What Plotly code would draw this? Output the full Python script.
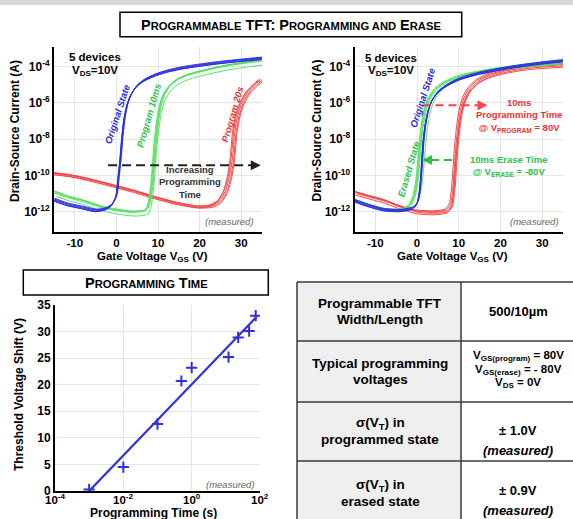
import math
import plotly.graph_objects as go

W, H = 573, 519
FONT = "Liberation Sans, Arial, sans-serif"

# ---------------- data ----------------
# Top-left panel: programming (log10 of drain current vs gate voltage)
vgs_orig_a = [-15, -12, -8, -5, -2.5, -1, 0, 0.5, 1.0, 1.4, 1.9, 2.6, 3.5, 4.8, 6.5, 9, 12, 16, 20, 25, 30, 35]
logi_orig_a = [-11.35, -11.6, -11.8, -11.95, -11.85, -11.6, -11.1, -10.1, -9.0, -7.9, -6.9, -6.1, -5.55, -5.1,
               -4.78, -4.5, -4.27, -4.07, -3.93, -3.78, -3.66, -3.55]
vgs_p10ms_a = [-15, -12, -8, -4, 0, 4, 7, 7.8, 8.4, 8.8, 9.2, 9.7, 10.3, 11.2, 12.5, 14.5, 17, 21, 26, 30, 35]
logi_p10ms_a = [-10.9, -11.15, -11.4, -11.7, -11.9, -12.0, -11.9, -11.5, -10.6, -9.5, -8.3, -7.2, -6.3, -5.6,
                -5.1, -4.7, -4.45, -4.2, -3.95, -3.8, -3.65]
vgs_p20s_a = [-15, -10, -5, 0, 5, 10, 15, 20, 23, 25, 26.5, 27.5, 28.2, 28.8, 29.5, 30.5, 32, 33.5, 35]
logi_p20s_a = [-9.9, -10.05, -10.3, -10.6, -10.9, -11.25, -11.55, -11.75, -11.7, -11.45, -10.9, -10.1, -9.1,
               -7.6, -6.7, -6.0, -5.4, -5.05, -4.75]
# device-to-device spread (5 devices): V shift and log-current shift
dv_orig_a = [0, 0.1, -0.1, 0.2, -0.15]
dlog_orig_a = [0, 0.04, -0.04, 0.08, -0.06]
dv_p10ms_a = [0, 0.2, -0.2, 0.35, 0.5]
dlog_p10ms_a = [0, 0.03, -0.05, 0.0, -0.25]
dv_p20s_a = [0, -0.3, -0.6, -0.9, 0.2]
dlog_p20s_a = [0, 0.04, 0.07, -0.04, -0.06]

# Top-right panel: program & erase
vgs_orig_b = [-15, -12, -8, -4, -1, 0, 0.5, 0.9, 1.2, 1.5, 2.0, 2.6, 3.5, 5, 7, 10, 14, 19, 25, 30, 35]
logi_orig_b = [-11.4, -11.65, -11.9, -11.95, -11.8, -11.55, -11.1, -10.2, -9.2, -8.2, -7.2, -6.5, -5.9, -5.4,
               -5.05, -4.7, -4.42, -4.18, -3.95, -3.8, -3.68]
vgs_erase_b = [-15, -12, -8, -4, -2.5, -1.5, -0.7, 0, 0.4, 0.8, 1.3, 2.0, 3.0, 4.5, 6.5, 10, 14, 19, 25, 30, 35]
logi_erase_b = [-11.35, -11.6, -11.85, -11.9, -11.8, -11.6, -11.2, -10.4, -9.5, -8.4, -7.3, -6.4, -5.75, -5.25,
                -4.9, -4.55, -4.33, -4.12, -3.95, -3.85, -3.75]
vgs_prog_b = [-15, -12, -8, -4, 0, 4, 7, 8, 8.5, 8.9, 9.3, 9.8, 10.4, 11.3, 12.5, 14.5, 17, 21, 26, 30, 35]
logi_prog_b = [-10.9, -11.1, -11.35, -11.7, -11.95, -12.0, -11.9, -11.6, -10.9, -9.7, -8.4, -7.3, -6.4, -5.7,
               -5.2, -4.75, -4.45, -4.2, -4.0, -3.92, -3.85]
dv_orig_b = [0, 0.08, -0.08, 0.15, -0.12]
dlog_orig_b = [0, 0.04, -0.04, 0.07, -0.06]
dv_erase_b = [0, -0.2, -0.35, 0.15, 1.2]
dlog_erase_b = [0, 0.0, 0.04, -0.04, -0.08]
dv_prog_b = [0, 0.3, -0.3, 0.5, 0.15]
dlog_prog_b = [0, -0.04, 0.04, -0.1, -0.18]

# Bottom-left panel: threshold voltage shift vs programming time
prog_time_s = [1e-3, 1e-2, 1e-1, 0.5, 1, 12, 23, 48, 75]
vt_shift_v = [0.3, 4.5, 12.6, 20.7, 23.2, 25.2, 28.9, 30.1, 33.0]
fit_time_s = [1e-3, 80]
fit_shift_v = [0, 32.8]
time_ticks = [1e-4, 1e-2, 1, 100]

# Table
table_params = [["Programmable TFT", "Width/Length"],
                ["Typical programming", "voltages"],
                ["σ(V<sub>T</sub>) in", "programmed state"],
                ["σ(V<sub>T</sub>) in", "erased state"]]
table_values = [["500/10µm"],
                ["V<sub>GS(program)</sub> = 80V", "V<sub>GS(erase)</sub> = - 80V", "V<sub>DS</sub> = 0V"],
                ["± 1.0V", "<i>(measured)</i>"],
                ["± 0.9V", "<i>(measured)</i>"]]

# ---------------- style ----------------
BLUE = "#2f2fe0"
GREEN = "#55e060"
RED = "#f04848"
BLUE_T = "#2b2bd8"
GREEN_T = "#2fc04a"
RED_T = "#ec3434"
GRID = "#e6e6e6"


def px(x):
    return x / W


def py(y):
    return 1 - y / H


fig = go.Figure()


def add_bundle(v, logi, dvs, dls, color, xa, ya):
    for dv, dl in zip(dvs, dls):
        fig.add_trace(go.Scatter(
            x=[a + dv for a in v], y=[10 ** (b + dl) for b in logi],
            mode="lines", line=dict(color=color, width=1.0, shape="spline", smoothing=0.6),
            xaxis=xa, yaxis=ya, showlegend=False, hoverinfo="skip"))


add_bundle(vgs_p20s_a, logi_p20s_a, dv_p20s_a, dlog_p20s_a, RED, "x", "y")
add_bundle(vgs_p10ms_a, logi_p10ms_a, dv_p10ms_a, dlog_p10ms_a, GREEN, "x", "y")
add_bundle(vgs_orig_a, logi_orig_a, dv_orig_a, dlog_orig_a, BLUE, "x", "y")

add_bundle(vgs_prog_b, logi_prog_b, dv_prog_b, dlog_prog_b, RED, "x2", "y2")
add_bundle(vgs_erase_b, logi_erase_b, dv_erase_b, dlog_erase_b, GREEN, "x2", "y2")
add_bundle(vgs_orig_b, logi_orig_b, dv_orig_b, dlog_orig_b, BLUE, "x2", "y2")

# dashed arrow shafts
fig.add_trace(go.Scatter(x=[-2, 33.6], y=[10 ** -9.45] * 2, mode="lines",
                         line=dict(color="#222", width=2, dash="9px,5px"),
                         xaxis="x", yaxis="y", showlegend=False, hoverinfo="skip"))
fig.add_trace(go.Scatter(x=[1.3, 15.2], y=[10 ** -6.13] * 2, mode="lines",
                         line=dict(color=RED, width=2, dash="8px,5px"),
                         xaxis="x2", yaxis="y2", showlegend=False, hoverinfo="skip"))
fig.add_trace(go.Scatter(x=[8.4, 2.6], y=[10 ** -9.15] * 2, mode="lines",
                         line=dict(color=GREEN_T, width=2, dash="8px,5px"),
                         xaxis="x2", yaxis="y2", showlegend=False, hoverinfo="skip"))

# bottom-left panel
fig.add_trace(go.Scatter(x=fit_time_s, y=fit_shift_v, mode="lines",
                         line=dict(color=BLUE, width=2.2), xaxis="x3", yaxis="y3",
                         showlegend=False, hoverinfo="skip"))
fig.add_trace(go.Scatter(x=prog_time_s, y=vt_shift_v, mode="markers",
                         marker=dict(symbol="cross-thin", size=8, line=dict(color=BLUE, width=2)),
                         xaxis="x3", yaxis="y3", showlegend=False, hoverinfo="skip"))

tickfont = dict(family=FONT, size=12, color="black")
xtickfont = dict(family=FONT, size=11.5, color="black")
exp_ticks = lambda es: ["<b>10<sup>%d</sup></b>" % e for e in es]
common = dict(showgrid=True, gridcolor=GRID, gridwidth=1, zeroline=False, showline=True,
              linecolor="black", linewidth=2, ticks="", fixedrange=True, automargin=False)

lin_ticks = [-10, 0, 10, 20, 30]
log_ticks = [-12, -10, -8, -6, -4]
top_dom_y = [py(231.5), py(46.7)]

fig.update_layout(
    width=W, height=H, margin=dict(l=0, r=0, t=0, b=0, autoexpand=False),
    paper_bgcolor="white", plot_bgcolor="white", showlegend=False,
    font=dict(family=FONT, color="black"),
    xaxis=dict(domain=[px(54), px(262)], range=[-15, 35], anchor="y", tickfont=xtickfont,
               tickvals=lin_ticks, ticktext=["<b>%d</b>" % t for t in lin_ticks], **common),
    yaxis=dict(domain=top_dom_y, type="log", range=[-13.1, -2.9], anchor="x", tickfont=tickfont,
               tickvals=[10 ** e for e in log_ticks], ticktext=exp_ticks(log_ticks), **common),
    xaxis2=dict(domain=[px(354.5), px(563)], range=[-15, 35], anchor="y2", tickfont=xtickfont,
                tickvals=lin_ticks, ticktext=["<b>%d</b>" % t for t in lin_ticks], **common),
    yaxis2=dict(domain=top_dom_y, type="log", range=[-13.1, -2.9], anchor="x2", tickfont=tickfont,
                tickvals=[10 ** e for e in log_ticks], ticktext=exp_ticks(log_ticks), **common),
    xaxis3=dict(domain=[px(55), px(260)], type="log", range=[-4, 2], anchor="y3", tickfont=tickfont,
                tickvals=time_ticks, showticklabels=False, **common),
    yaxis3=dict(domain=[py(491), py(305)], range=[0, 35], anchor="x3", tickfont=tickfont,
                tickvals=list(range(0, 36, 5)), ticktext=["<b>%d</b>" % t for t in range(0, 36, 5)], **common),
)

shapes = []
annotations = []


def paper_text(x, y, text, size=12, color="black", angle=0, bold=True):
    annotations.append(dict(x=px(x), y=py(y), xref="paper", yref="paper", text=("<b>%s</b>" % text) if bold else text,
                            showarrow=False, textangle=angle, xanchor="center", yanchor="middle",
                            font=dict(family=FONT, size=size, color=color)))


def data_text(x, y, text, xr, yr, size=10, color="black", angle=0, bold=True, italic=False):
    t = text
    if italic:
        t = "<i>%s</i>" % t
    if bold:
        t = "<b>%s</b>" % t
    annotations.append(dict(x=x, y=y, xref=xr, yref=yr, text=t, showarrow=False, textangle=angle,
                            xanchor="center", yanchor="middle",
                            font=dict(family=FONT, size=size, color=color)))


# top grey band
shapes.append(dict(type="rect", xref="paper", yref="paper", x0=0, x1=1, y0=py(5), y1=1,
                   fillcolor="#d8d8d8", line=dict(width=0), layer="above"))

# title boxes
sc = lambda s: '<span style="font-size:11.2px">%s</span>' % s
shapes.append(dict(type="rect", xref="paper", yref="paper", x0=px(120), x1=px(461.7), y0=py(36.7), y1=py(12.3),
                   line=dict(color="black", width=1.5), fillcolor="white"))
paper_text(291, 24.8, "P" + sc("ROGRAMMABLE") + " TFT: P" + sc("ROGRAMMING AND") + " E" + sc("RASE"), size=14.5)
shapes.append(dict(type="rect", xref="paper", yref="paper", x0=px(23.3), x1=px(268.3), y0=py(295), y1=py(270),
                   line=dict(color="black", width=1.5), fillcolor="white"))
paper_text(146, 283, "P" + sc("ROGRAMMING") + " T" + sc("IME"), size=14.5)

# axis titles
paper_text(15, 131, "Drain-Source Current (A)", size=12, angle=-90)
paper_text(316.5, 131, "Drain-Source Current (A)", size=12, angle=-90)
paper_text(152.5, 256.5, "Gate Voltage V<sub>GS</sub> (V)", size=11.5)
paper_text(452.5, 256.5, "Gate Voltage V<sub>GS</sub> (V)", size=11.5)
paper_text(19, 395, "Threshold Voltage Shift (V)", size=12, angle=-90)
paper_text(153, 512.5, "Programming Time (s)", size=12)

# bottom-left x tick labels (close to the axis, as in the reference)
for t, lab in zip(time_ticks, exp_ticks([round(math.log10(t)) for t in time_ticks])):
    annotations.append(dict(x=math.log10(t), y=py(499), xref="x3", yref="paper", text=lab, showarrow=False,
                            xanchor="center", yanchor="middle", font=dict(family=FONT, size=11.5, color="black")))

# panel A texts
data_text(-5.1, -3.47, "5 devices", "x", "y", size=11.5)
data_text(-5.1, -4.26, "V<sub>DS</sub>=10V", "x", "y", size=11.5)
data_text(0.1, -6.62, "Original State", "x", "y", size=9.5, color=BLUE_T, angle=-72, italic=True)
data_text(7.8, -6.71, "Program 10ms", "x", "y", size=9.5, color=GREEN_T, angle=-74, italic=True)
data_text(27.8, -6.62, "Program 20s", "x", "y", size=9.5, color=RED_T, angle=-74, italic=True)
data_text(17.7, -10.35, "Increasing<br>Programming<br>Time", "x", "y", size=9.5, color="#333")
data_text(27.3, -12.56, "(measured)", "x", "y", size=9.5, color="#666", bold=False, italic=True)
annotations.append(dict(x=34.7, y=-9.45, xref="x", yref="y", ax=-9, ay=0, text="", showarrow=True,
                        arrowhead=2, arrowsize=1, arrowwidth=2, arrowcolor="#222"))

# panel B texts
data_text(-6.3, -3.5, "5 devices", "x2", "y2", size=11.5)
data_text(-6.3, -4.25, "V<sub>DS</sub>=10V", "x2", "y2", size=11.5)
data_text(1.3, -5.69, "Original State", "x2", "y2", size=9.5, color=BLUE_T, angle=-72, italic=True)
data_text(-1.9, -9.65, "Erased State", "x2", "y2", size=9.5, color=GREEN_T, angle=-74, italic=True)
data_text(24.4, -6.72, "10ms<br>Programming Time<br>@ V<sub>PROGRAM</sub> = 80V", "x2", "y2", size=9.5, color=RED_T)
data_text(22.0, -9.49, "10ms Erase Time<br>@ V<sub>ERASE</sub> = -80V", "x2", "y2", size=9.5, color=GREEN_T)
data_text(28.1, -12.56, "(measured)", "x2", "y2", size=9.5, color="#666", bold=False, italic=True)
annotations.append(dict(x=16.9, y=-6.13, xref="x2", yref="y2", ax=-9, ay=0, text="", showarrow=True,
                        arrowhead=2, arrowsize=1, arrowwidth=2, arrowcolor=RED))
annotations.append(dict(x=1.2, y=-9.15, xref="x2", yref="y2", ax=9, ay=0, text="", showarrow=True,
                        arrowhead=2, arrowsize=1, arrowwidth=2, arrowcolor=GREEN_T))

# panel C text
data_text(1.15, 1.3, "(measured)", "x3", "y3", size=9.5, color="#666", bold=False, italic=True)

# table
row_edges = [282, 341, 402, 461, 525]
col_x = [297, 461, 600]
label_gap = 16
value_gap = [0, 13.5, 20, 20]
value_offset = [0, -2, 8.5, 7.5]
value_size = [13, 11.5, 13, 13]
for i in range(len(table_params)):
    y0, y1 = row_edges[i], row_edges[i + 1]
    shapes.append(dict(type="rect", xref="paper", yref="paper", x0=px(col_x[0]), x1=px(col_x[1]),
                       y0=py(y1), y1=py(y0), fillcolor="#efefef", line=dict(width=0), layer="below"))
    yc = (y0 + y1) / 2
    lines = table_params[i]
    for k, ln in enumerate(lines):
        paper_text(380, yc + (k - (len(lines) - 1) / 2) * label_gap, ln, size=13.5)
    vals = table_values[i]
    for k, ln in enumerate(vals):
        paper_text(518, yc + value_offset[i] + (k - (len(vals) - 1) / 2) * value_gap[i], ln, size=value_size[i])

LC = dict(color="#3a3a3a", width=1.5)
for y in row_edges[:-1]:
    shapes.append(dict(type="line", xref="paper", yref="paper", x0=px(col_x[0]), x1=px(col_x[2]),
                       y0=py(y), y1=py(y), line=LC))
for x in col_x[:2]:
    shapes.append(dict(type="line", xref="paper", yref="paper", x0=px(x), x1=px(x),
                       y0=py(row_edges[0]), y1=py(row_edges[-1]), line=LC))

fig.update_layout(shapes=shapes, annotations=annotations)
fig.write_html("out.html", config={"displayModeBar": False},
               post_script="document.body.style.margin='0';document.body.style.overflow='hidden';")
